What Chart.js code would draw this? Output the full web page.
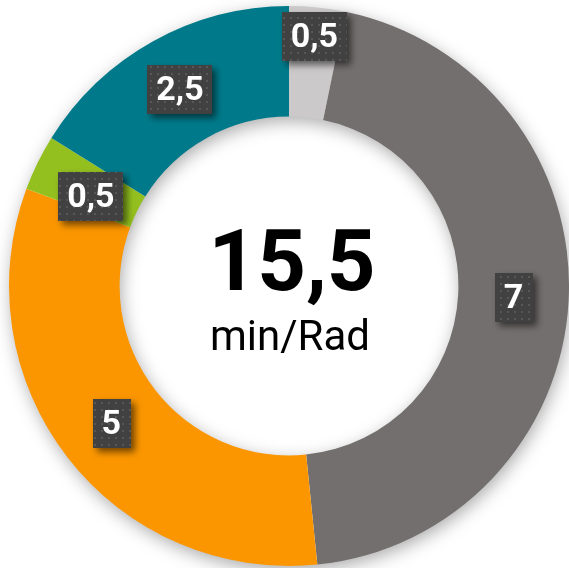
<!DOCTYPE html>
<html>
<head>
<meta charset="utf-8">
<script src="https://cdn.jsdelivr.net/npm/chart.js@4.4.1/dist/chart.umd.min.js"></script>
<style>
  html, body { margin: 0; padding: 0; background: #ffffff; }
  canvas { display: block; }
</style>
</head>
<body>
<canvas id="donut" width="569" height="568"></canvas>
<script>
// slices clockwise from 12 o'clock
const categories = ["A", "B", "C", "D", "E"];
const values = [0.5, 7, 5, 0.5, 2.5];
const colors = ["#cbc9c9", "#736f6e", "#fb9600", "#93c01f", "#007a8a"];
const unitLabel = "min/Rad";

const fmt = (v) => String(v).replace(".", ",");

// dotted dark fill used behind the value labels
function makeDotPattern(ctx) {
  const c = document.createElement("canvas");
  c.width = 7;
  c.height = 7;
  const p = c.getContext("2d");
  p.fillStyle = "#414141";
  p.fillRect(0, 0, 7, 7);
  p.fillStyle = "#575757";
  p.fillRect(3, 3, 2, 2);
  return ctx.createPattern(c, "repeat");
}

const ringShadow = {
  id: "ringShadow",
  beforeDatasetsDraw(chart) {
    const arc = chart.getDatasetMeta(0).data[0];
    if (!arc) return;
    const { x, y, outerRadius, innerRadius } = arc.getProps(["x", "y", "outerRadius", "innerRadius"], true);
    const ctx = chart.ctx;
    ctx.save();
    ctx.beginPath();
    ctx.arc(x, y, outerRadius - 1, 0, Math.PI * 2);
    ctx.arc(x, y, innerRadius + 1, 0, Math.PI * 2, true);
    ctx.shadowColor = "rgba(0,0,0,0.35)";
    ctx.shadowBlur = 18;
    ctx.shadowOffsetX = 2;
    ctx.shadowOffsetY = 5;
    ctx.fillStyle = "#ffffff";
    ctx.fill();
    ctx.restore();
  }
};

const valueBoxes = {
  id: "valueBoxes",
  afterDatasetsDraw(chart, args, opts) {
    const ctx = chart.ctx;
    const meta = chart.getDatasetMeta(0);
    const pattern = makeDotPattern(ctx);
    ctx.save();
    ctx.font = "bold 34px Roboto";
    ctx.textAlign = "center";
    ctx.textBaseline = "middle";
    meta.data.forEach((arc, i) => {
      const p = arc.getProps(["x", "y", "startAngle", "endAngle", "innerRadius", "outerRadius"], true);
      const mid = (p.startAngle + p.endAngle) / 2;
      const r = (p.innerRadius + p.outerRadius) / 2 + (opts.shift[i] || 0);
      const cx = p.x + Math.cos(mid) * r;
      const cy = p.y + Math.sin(mid) * r + (opts.drop[i] || 0);
      const txt = fmt(values[i]);
      const w = ctx.measureText(txt).width + 18;
      const h = 49;
      ctx.save();
      ctx.shadowColor = "rgba(0,0,0,0.55)";
      ctx.shadowBlur = 7;
      ctx.shadowOffsetX = 4;
      ctx.shadowOffsetY = 4;
      ctx.fillStyle = pattern;
      ctx.fillRect(Math.round(cx - w / 2), Math.round(cy - h / 2), Math.round(w), h);
      ctx.restore();
      ctx.fillStyle = "#ffffff";
      ctx.fillText(txt, cx, cy + 2);
    });
    ctx.restore();
  }
};

const centerText = {
  id: "centerText",
  afterDraw(chart) {
    const arc = chart.getDatasetMeta(0).data[0];
    const { x, y } = arc.getProps(["x", "y"], true);
    const total = values.reduce((a, b) => a + b, 0);
    const ctx = chart.ctx;
    ctx.save();
    ctx.fillStyle = "#000000";
    ctx.textAlign = "center";
    ctx.textBaseline = "alphabetic";
    ctx.font = "bold 85px Roboto";
    ctx.fillText(fmt(total), x + 3, y + 4);
    ctx.font = "42px Roboto";
    ctx.fillText(unitLabel, x + 1, y + 64);
    ctx.restore();
  }
};

new Chart(document.getElementById("donut"), {
  type: "doughnut",
  data: {
    labels: categories,
    datasets: [{
      data: values,
      backgroundColor: colors,
      borderWidth: 0,
      hoverOffset: 0
    }]
  },
  options: {
    responsive: false,
    animation: false,
    cutout: "60.5%",
    layout: { padding: { left: 9, top: 5, right: 0, bottom: 1 } },
    plugins: {
      legend: { display: false },
      tooltip: { enabled: false },
      valueBoxes: { shift: [26, 0, 0, -4, 0], drop: [0, 0, 0, 8, 0] }
    }
  },
  plugins: [ringShadow, valueBoxes, centerText]
});
</script>
</body>
</html>
